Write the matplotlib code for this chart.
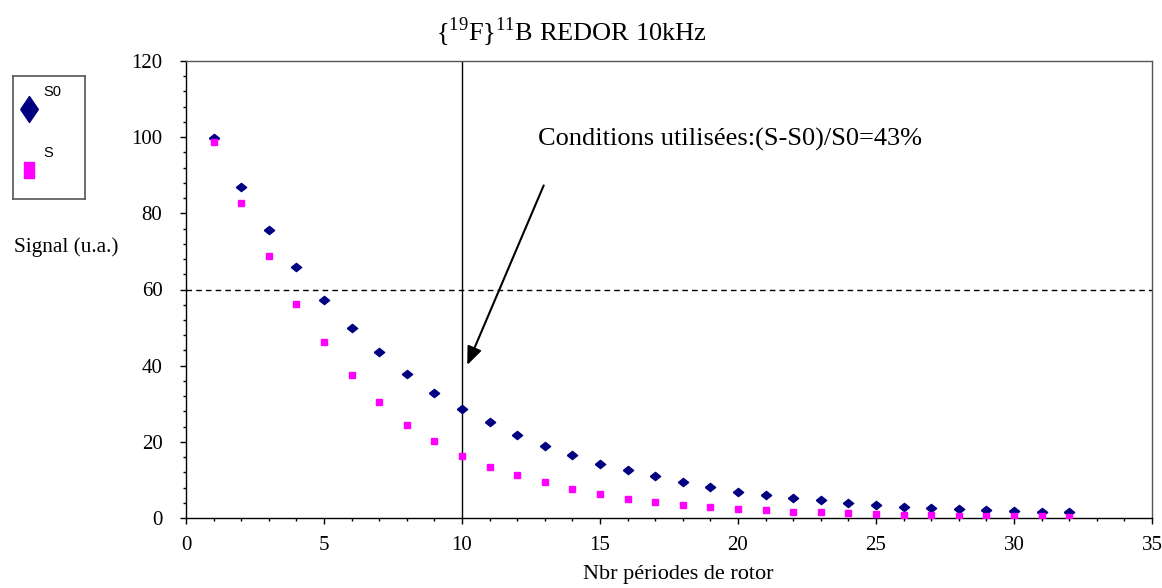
import matplotlib
matplotlib.use('Agg')
import matplotlib.pyplot as plt
from matplotlib.ticker import MultipleLocator
from matplotlib.lines import Line2D

plt.rcParams['font.family'] = 'Liberation Serif'
plt.rcParams['mathtext.fontset'] = 'custom'
plt.rcParams['mathtext.rm'] = 'Liberation Serif'

# rotor periods
periods = list(range(1, 33))

# S0 reference signal (diamonds)
s0 = [99.9, 86.9, 75.7, 65.9, 57.3, 50.0, 43.7, 37.9, 32.9, 28.7,
      25.1, 21.7, 18.9, 16.5, 14.3, 12.5, 10.9, 9.4, 8.2, 6.9,
      6.05, 5.35, 4.6, 4.0, 3.4, 3.0, 2.7, 2.3, 2.2, 1.9, 1.7, 1.6]

# S dephased signal (squares)
s = [98.8, 82.8, 68.7, 56.2, 46.3, 37.6, 30.5, 24.5, 20.3, 16.3,
     13.3, 11.2, 9.4, 7.6, 6.2, 5.0, 4.3, 3.5, 2.9, 2.4,
     2.0, 1.7, 1.5, 1.2, 1.0, 0.8, 0.75, 0.6, 0.55, 0.5, 0.45, 0.3]

navy = '#000080'
magenta = '#ff00ff'
flat_diamond = [(-1, 0), (0, 0.8), (1, 0), (0, -0.8), (-1, 0)]
tall_diamond = [(-0.68, 0), (0, 1), (0.68, 0), (0, -1), (-0.68, 0)]
tall_rect = [(-0.62, -1), (0.62, -1), (0.62, 1), (-0.62, 1), (-0.62, -1)]

fig = plt.figure(figsize=(11.62, 5.88), dpi=100)
ax = fig.add_axes([186 / 1162, 70 / 588, 966 / 1162, 457 / 588])

ax.plot(periods, s0, linestyle='none', marker=flat_diamond, markersize=7.4,
        color=navy, zorder=3)
ax.plot(periods, s, linestyle='none', marker='s', markersize=4.6,
        color=magenta, zorder=3)

ax.axvline(10, color='black', lw=1)
ax.axhline(60, color='black', lw=1, linestyle=(0, (4, 3)))

ax.annotate('', xy=(10.15, 39.5), xytext=(13.0, 88.0),
            arrowprops=dict(arrowstyle='-|>,head_length=1.1,head_width=0.45',
                            color='black', lw=1.5))
ax.text(12.75, 99.5, 'Conditions utilisées:(S-S0)/S0=43%', fontsize=19,
        va='center', ha='left')

ax.set_xlim(0, 35)
ax.set_ylim(0, 120)
ax.xaxis.set_major_locator(MultipleLocator(5))
ax.xaxis.set_minor_locator(MultipleLocator(1))
ax.yaxis.set_major_locator(MultipleLocator(20))
ax.yaxis.set_minor_locator(MultipleLocator(4))
ax.tick_params(which='major', direction='out', length=4, width=1,
               labelsize=15)
ax.tick_params(which='minor', direction='out', length=2.5, width=1)
ax.tick_params(axis='y', which='major', pad=13)
ax.tick_params(axis='x', which='major', pad=9)

for side in ['top', 'right']:
    ax.spines[side].set_color('#555555')
for side in ax.spines:
    ax.spines[side].set_linewidth(1)

fig.text(571 / 1162, 1 - 32 / 588,
         r'{$^{\mathrm{19}}$F}$^{\mathrm{11}}$B REDOR 10kHz',
         fontsize=19, ha='center', va='center')
fig.text(66 / 1162, 1 - 247 / 588, 'Signal (u.a.)', fontsize=15.3,
         ha='center', va='center')
fig.text(678 / 1162, 1 - 575 / 588, 'Nbr périodes de rotor', fontsize=16,
         ha='center', va='center')

# legend box drawn by hand
lax = fig.add_axes([13 / 1162, 1 - 199 / 588, 72 / 1162, 123 / 588])
lax.set_xlim(0, 1)
lax.set_ylim(0, 1)
lax.set_xticks([])
lax.set_yticks([])
for side in lax.spines.values():
    side.set_color('#555555')
    side.set_linewidth(1.2)
lax.add_line(Line2D([0.22], [0.73], marker=tall_diamond, markersize=18.7,
                    color=navy, linestyle='none'))
lax.add_line(Line2D([0.22], [0.236], marker=tall_rect, markersize=11.5,
                    color=magenta, linestyle='none'))
lax.text(0.42, 0.87, 'S0', fontsize=10.5, family='Liberation Sans',
         ha='left', va='center')
lax.text(0.42, 0.374, 'S', fontsize=10.5, family='Liberation Sans',
         ha='left', va='center')

fig.savefig('out.png', dpi=100)
